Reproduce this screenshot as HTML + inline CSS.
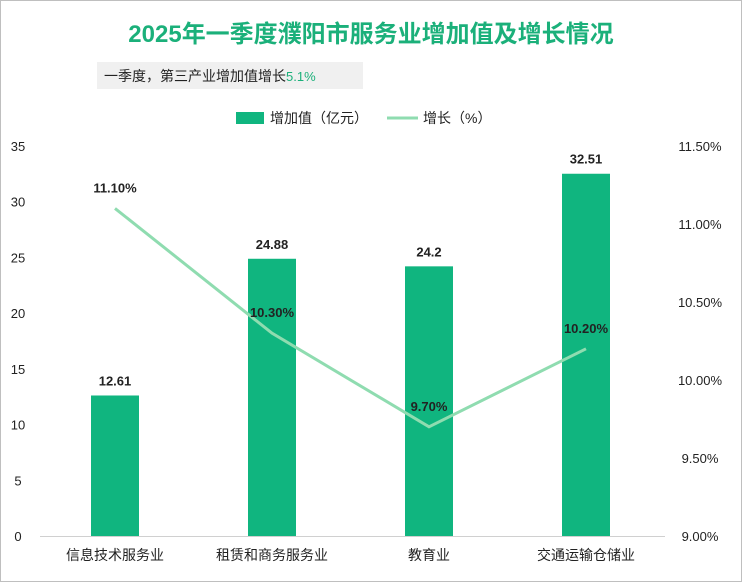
<!DOCTYPE html>
<html><head><meta charset="utf-8"><style>
body{margin:0;background:#fff;}
svg{display:block;font-family:"Liberation Sans","Noto Sans CJK SC",sans-serif;}
</style></head><body>
<svg id="chart" width="742" height="582">
<rect x="0.5" y="0.5" width="741" height="581" fill="#fff" stroke="#bfbfbf"/>
<text x="371" y="42" text-anchor="middle" font-size="24" font-weight="bold" fill="#1bb07a">2025年一季度濮阳市服务业增加值及增长情况</text>
<rect x="97" y="62" width="266" height="27" fill="#f0f0f0"/>
<text x="104" y="81" font-size="14" fill="#222">一季度，第三产业增加值增长<tspan fill="#1bb07a" font-size="13">5.1%</tspan></text>
<g>
<rect x="236" y="112" width="28" height="12" fill="#10b57f"/>
<text x="270" y="123" font-size="14" fill="#222">增加值（亿元）</text>
<line x1="387" y1="118" x2="418" y2="118" stroke="#8fdcb0" stroke-width="3"/>
<text x="423" y="123" font-size="14" fill="#222">增长（%）</text>
</g>
<g id="plot"></g>
</svg>
<script>
const categories=["信息技术服务业","租赁和商务服务业","教育业","交通运输仓储业"];
const values=[12.61,24.88,24.2,32.51];
const growth=[11.10,10.30,9.70,10.20];
const leftTicks=[0,5,10,15,20,25,30,35];
const rightTicks=[9.0,9.5,10.0,10.5,11.0,11.5];
const ns="http://www.w3.org/2000/svg";
const g=document.getElementById('plot');
const y0=536,yTop=146;
const yL=v=>y0-(v/35)*(y0-yTop);
const yR=v=>y0-((v-9)/2.5)*(y0-yTop);
const xC=i=>115+i*157;
function mk(t,a,txt){const e=document.createElementNS(ns,t);for(const k in a)e.setAttribute(k,a[k]);if(txt!=null)e.textContent=txt;g.appendChild(e);return e;}
leftTicks.forEach(v=>{const e=mk('text',{x:18,y:yL(v)+5,'text-anchor':'middle','font-size':13,fill:'#222'},v);

});
rightTicks.forEach(v=>{const e=mk('text',{x:700,y:yR(v)+5,'text-anchor':'middle','font-size':13,fill:'#222'},v.toFixed(2)+'%');

});
const ax=mk('line',{x1:40,y1:y0+0.5,x2:665,y2:y0+0.5,stroke:'#d0d0d0'});


categories.forEach((c,i)=>{
const b=mk('rect',{x:xC(i)-24,y:yL(values[i]),width:48,height:y0-yL(values[i]),fill:'#10b57f'});


const l=mk('text',{x:xC(i),y:yL(values[i])-10,'text-anchor':'middle','font-size':13,'font-weight':'bold',fill:'#222'},values[i]);


const t=mk('text',{x:xC(i),y:560,'text-anchor':'middle','font-size':14,fill:'#222'},c);


});
const pts=growth.map((v,i)=>xC(i)+','+yR(v)).join(' ');
const pl=mk('polyline',{points:pts,fill:'none',stroke:'#8fdcb0','stroke-width':3});


growth.forEach((v,i)=>{const t=mk('text',{x:xC(i),y:yR(v)-16,'text-anchor':'middle','font-size':13,'font-weight':'bold',fill:'#222'},v.toFixed(2)+'%');

});
</script>
</body></html>
